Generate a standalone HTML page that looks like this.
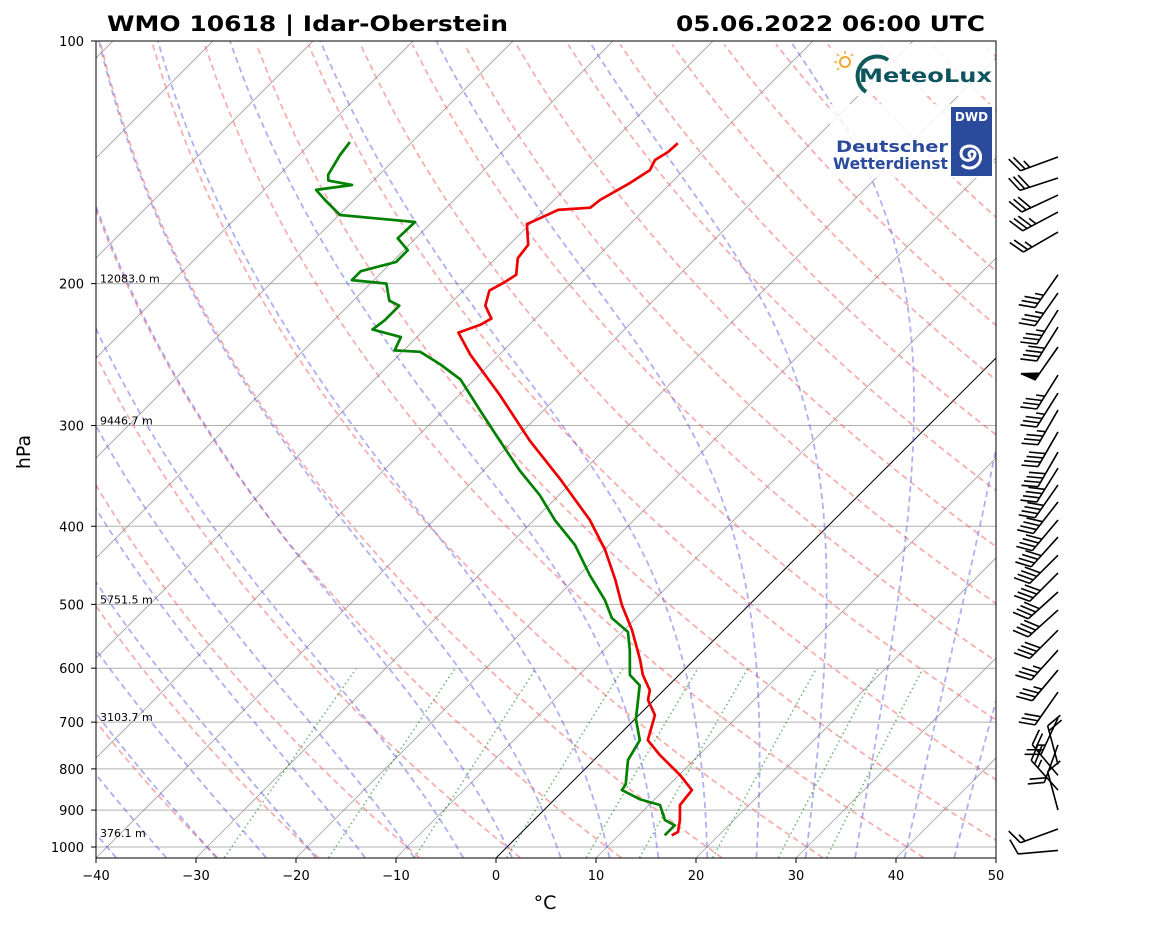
<!DOCTYPE html>
<html><head><meta charset="utf-8"><style>
body{margin:0;background:#fff}
svg text{font-family:"DejaVu Sans","Liberation Sans",sans-serif}
</style></head><body>
<svg id="chart" width="1160" height="925" viewBox="0 0 1160 925" xmlns="http://www.w3.org/2000/svg">
<defs><clipPath id="plotclip"><rect x="96" y="41" width="900" height="817"/></clipPath></defs>
<rect width="1160" height="925" fill="#fff"/>
<g id="bg" clip-path="url(#plotclip)"></g>
<g id="prof" clip-path="url(#plotclip)"></g>
<g id="logos">
  <rect x="832" y="44" width="162" height="52" fill="#fff" opacity="0.85"/>
  <g>
    <circle cx="845" cy="62" r="5" fill="none" stroke="#f0a830" stroke-width="2"/>
    <g stroke="#f0a830" stroke-width="1.5">
      <line x1="845" y1="51" x2="845" y2="54"/><line x1="834" y1="62" x2="837" y2="62"/>
      <line x1="837" y1="54" x2="839" y2="56"/><line x1="853" y1="54" x2="851" y2="56"/>
      <line x1="837" y1="70" x2="839" y2="68"/>
    </g>
    <path d="M888 60 A19 19 0 1 0 866 92" fill="none" stroke="#0f5a5a" stroke-width="4"/>
    <text x="859" y="82" font-size="19" font-weight="bold" fill="#0f5560" textLength="133" lengthAdjust="spacingAndGlyphs">MeteoLux</text>
  </g>
  <rect x="830" y="104" width="164" height="74" fill="#fff" opacity="0.85"/>
  <g>
    <rect x="951" y="107" width="41" height="69" fill="#2a4a9c"/>
    <text x="971.5" y="121" font-size="12" font-weight="bold" fill="#fff" text-anchor="middle">DWD</text>
    <path d="M971 157 a3 3 0 1 1 4 -3 a7 7 0 1 1 -10 -7 a11 11 0 1 1 -3 18" fill="none" stroke="#fff" stroke-width="3"/>
    <text x="836" y="152" font-size="16" font-weight="bold" fill="#2a4a9c" textLength="112" lengthAdjust="spacingAndGlyphs">Deutscher</text>
    <text x="833" y="169" font-size="16" font-weight="bold" fill="#2a4a9c" textLength="115" lengthAdjust="spacingAndGlyphs">Wetterdienst</text>
  </g>
</g>
<rect x="96" y="41" width="900" height="817" fill="none" stroke="#000" stroke-width="1"/>
<g id="axes"></g>
<g id="barbs"></g>
<text x="107" y="31" font-size="21" font-weight="bold" textLength="401" lengthAdjust="spacingAndGlyphs">WMO 10618 | Idar-Oberstein</text>
<text x="676" y="31" font-size="21" font-weight="bold" textLength="309" lengthAdjust="spacingAndGlyphs">05.06.2022 06:00 UTC</text>
<text x="545" y="909" font-size="19" text-anchor="middle">°C</text>
<text x="0" y="0" font-size="19" text-anchor="middle" transform="translate(30,452) rotate(-90)">hPa</text>
</svg>
<script>
// ---- data ----
const tempP=[133.9,137.3,140.5,144.6,150,157.5,161,162,164,168.7,179,186,195,199,204,213,221,225,230,245,275,313,350,393,428,466,501,538,586,612,639,657,686,737,769,814,850,887,926,958,967];
const tempT=[-53.3,-53.4,-53.9,-53.4,-54.1,-55.4,-55.6,-58.6,-59.1,-60.3,-58.1,-57.8,-56.3,-56.7,-57.4,-56.3,-54.4,-54.9,-56.3,-52.9,-45.9,-38.4,-31.4,-24.4,-19.9,-15.9,-12.7,-9.2,-5.4,-3.6,-1.4,-0.6,1.6,3.4,6.1,10.1,12.8,13.1,14.6,15.6,15.3];
const dewP=[133.5,138.5,146.6,149,150.9,153,157.5,164.4,167.7,175.7,181.8,188,193,198,200,210,213,222,228,233,242,243,252,263,287,313,341,366,393,422,460,494,520,541,570,612,630,694,737,780,836,850,873,887,926,940,967];
const dewT=[-86.2,-85.9,-85.1,-84.5,-81.7,-84.8,-82.9,-79.9,-71.7,-71.8,-69.6,-69.6,-72.2,-72.2,-68.4,-66.4,-64.9,-64.9,-65.2,-61.6,-60.9,-58.2,-54.9,-51.4,-46.4,-41.4,-36.4,-31.9,-27.9,-23.4,-18.9,-14.9,-12.4,-9.4,-7.4,-4.9,-2.9,0.1,2.6,3.4,5.6,5.8,8.6,11.1,13.1,14.6,14.6];
const pTicks=[100,200,300,400,500,600,700,800,900,1000];
const tTicks=[-40,-30,-20,-10,0,10,20,30,40,50];
const heightP=[200,300,500,700,975];
const heightLabels=["12083.0 m","9446.7 m","5751.5 m","3103.7 m","376.1 m"];
const barbP=[139.3,147.9,155.3,163,172.6,195,205.4,215.7,226.4,239.7,259.7,273.4,287,305.5,323.6,338.8,355.5,373.2,392.9,412.5,434.4,457.1,482.6,508.2,538.3,569.9,603.2,642.4,691.8,747,790,815,850,900,950,1010];
const barbDir=[250,252,245,242,240,215,215,212,212,215,212,212,210,210,210,212,215,218,220,222,225,225,228,228,225,222,220,215,205,200,345,320,318,345,250,265];
const barbSpd=[25,30,30,35,25,35,35,35,40,50,35,35,35,40,40,40,40,40,40,40,40,40,40,40,40,35,35,30,25,20,20,25,25,10,15,10];
// ---- axes functions ----
const NS="http://www.w3.org/2000/svg";
function yP(p){return 41+806*Math.log10(p/100);}
function xT(T,p){return 96+(T+40)*10+(858-yP(p));}
function mk(tag,attrs,parent){const e=document.createElementNS(NS,tag);for(const k in attrs)e.setAttribute(k,attrs[k]);parent.appendChild(e);return e;}
const bg=document.getElementById('bg'),prof=document.getElementById('prof'),axes=document.getElementById('axes'),barbs=document.getElementById('barbs');
pTicks.forEach(p=>{const l=mk('line',{x1:96,x2:996,y1:yP(p),y2:yP(p),stroke:'#b0b0b0','stroke-width':1},bg);

});
for(let T=-150;T<=50;T+=10){const l=mk('line',{x1:xT(T,1031),y1:yP(1031),x2:xT(T,100),y2:yP(100),stroke:T===0?'#000':'#8c8c8c','stroke-width':T===0?1:0.7},bg);

}
for(let th=243.15;th<=473.16;th+=10){let d='';for(let p=1031;p>=100;p-=10){const T=th*Math.pow(p/1000,0.2857)-273.15;d+=(d?'L':'M')+xT(T,p).toFixed(1)+' '+yP(p).toFixed(1);}
const e=mk('path',{d:d,fill:'none',stroke:'#f06060','stroke-opacity':0.5,'stroke-width':1.8,'stroke-dasharray':'6,4'},bg);

}
function es(Tc){return 6.112*Math.exp(17.67*Tc/(Tc+243.5));}
function dTdp(p,T){const e=es(T-273.15);const rs=0.622*e/(p-e);return (287.04*T+2.501e6*rs)/(1005.7+2.501e6*2.501e6*rs*0.622/(287.04*T*T))/p;}
for(let t0=-50;t0<=45;t0+=5){let pts=[];let T=t0+273.15;
 let Tb=T;for(let p=1000;p<1031;p+=1){Tb+=dTdp(p,Tb)*1;}pts.push([1031,Tb]);
 for(let p=1000;p>=100;p-=2){pts.push([p,T]);const k1=dTdp(p,T),k2=dTdp(p-1,T-k1),k3=dTdp(p-1,T-k2),k4=dTdp(p-2,T-2*k3);T-=2*(k1+2*k2+2*k3+k4)/6;}
 pts.sort((a,b)=>b[0]-a[0]);let d='';pts.forEach(q=>{d+=(d?'L':'M')+xT(q[1]-273.15,q[0]).toFixed(1)+' '+yP(q[0]).toFixed(1);});
 const e=mk('path',{d:d,fill:'none',stroke:'#5050e0','stroke-opacity':0.45,'stroke-width':1.8,'stroke-dasharray':'6,4'},bg);
 
 }
[0.0004,0.001,0.002,0.004,0.007,0.01,0.016,0.024,0.032].forEach(w=>{let d='';for(let p=1031;p>=600;p-=10){const e=p*w/(0.622+w);const L=Math.log(e/6.112);const Td=243.5*L/(17.67-L);d+=(d?'L':'M')+xT(Td,p).toFixed(1)+' '+yP(p).toFixed(1);}
 const e=mk('path',{d:d,fill:'none',stroke:'#008000','stroke-opacity':0.55,'stroke-width':1.6,'stroke-dasharray':'1.5,3'},bg);
 
 });
heightP.forEach((p,i)=>{const t=mk('text',{x:100,y:yP(p)-1,'font-size':11},bg);t.textContent=heightLabels[i];

});
function line(P,T,col,name){let d='';P.forEach((p,i)=>{d+=(i?'L':'M')+xT(T[i],p).toFixed(1)+' '+yP(p).toFixed(1);});
 const e=mk('path',{d:d,fill:'none',stroke:col,'stroke-width':2.7,'stroke-linejoin':'round'},prof);
 
 }
line(tempP,tempT,'#ee0000','temperature-line');
line(dewP,dewT,'#008000','dewpoint-line');
pTicks.forEach(p=>{mk('line',{x1:91,x2:96,y1:yP(p),y2:yP(p),stroke:'#000'},axes);
 const t=mk('text',{x:84,y:yP(p)+5,'font-size':13,'text-anchor':'end'},axes);t.textContent=p;
 
 });
tTicks.forEach(T=>{const x=96+(T+40)*10;mk('line',{x1:x,x2:x,y1:858,y2:863,stroke:'#000'},axes);
 const t=mk('text',{x:x,y:880,'font-size':13,'text-anchor':'middle'},axes);t.textContent=T<0?'\u2212'+(-T):T;
 
 });
barbP.forEach((p,i)=>{const x0=1058,y0=yP(p);const d=barbDir[i]*Math.PI/180;const ux=Math.sin(d),uy=-Math.cos(d);const px=-uy,py=ux;
 const L=40;const g=mk('g',{stroke:'#000','stroke-width':1.6,fill:'#000'},barbs);
 
 
 mk('line',{x1:x0,y1:y0,x2:x0+L*ux,y2:y0+L*uy},g);
 let s=Math.round(barbSpd[i]/5)*5;let pos=L;
 while(s>=50){const ax=x0+pos*ux,ay=y0+pos*uy,cx=x0+(pos-8)*ux,cy=y0+(pos-8)*uy;
  mk('polygon',{points:`${ax},${ay} ${ax+15*px+3*ux},${ay+15*py+3*uy} ${cx},${cy}`},g);pos-=10;s-=50;}
 while(s>=10){const ax=x0+pos*ux,ay=y0+pos*uy;mk('line',{x1:ax,y1:ay,x2:ax+15*px+7*ux,y2:ay+15*py+7*uy},g);pos-=5;s-=10;}
 if(s>=5){if(pos===L)pos-=5;const ax=x0+pos*ux,ay=y0+pos*uy;mk('line',{x1:ax,y1:ay,x2:ax+8*px+3.5*ux,y2:ay+8*py+3.5*uy},g);}
});
</script>
</body></html>
